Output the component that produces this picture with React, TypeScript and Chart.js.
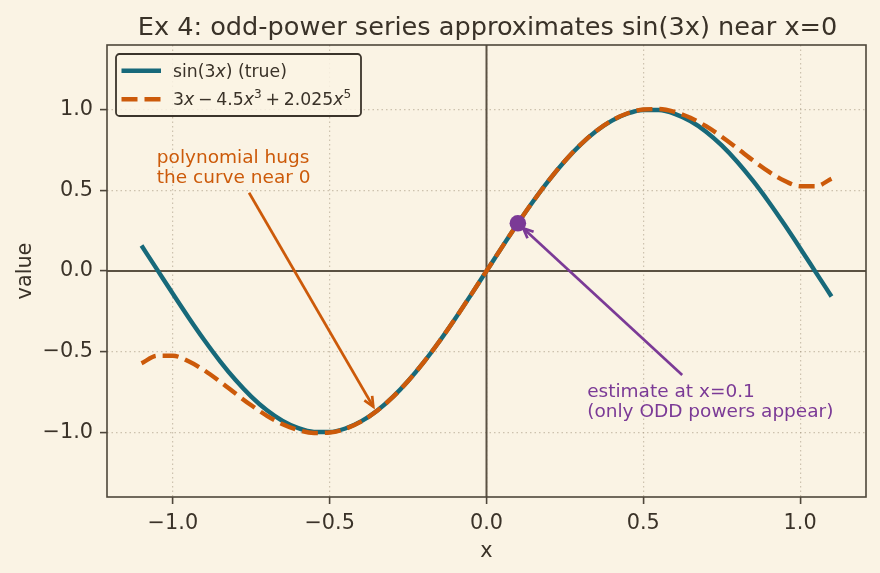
import { useEffect, useRef } from 'react';
import { Chart, registerables } from 'chart.js';

Chart.register(...registerables);

// ---------- data ----------
const X_VALUES = [
  -1.1, -1.05, -1.0, -0.95, -0.9, -0.85, -0.8, -0.75, -0.7, -0.65, -0.6, -0.55, -0.5,
  -0.45, -0.4, -0.35, -0.3, -0.25, -0.2, -0.15, -0.1, -0.05, 0.0, 0.05, 0.1, 0.15, 0.2,
  0.25, 0.3, 0.35, 0.4, 0.45, 0.5, 0.55, 0.6, 0.65, 0.7, 0.75, 0.8, 0.85, 0.9, 0.95,
  1.0, 1.05, 1.1,
];
const SIN_3X = [
  0.1577, 0.0084, -0.1411, -0.2875, -0.4274, -0.5577, -0.6755, -0.7781, -0.8632, -0.929,
  -0.9738, -0.9969, -0.9975, -0.9757, -0.932, -0.8674, -0.7833, -0.6816, -0.5646, -0.435,
  -0.2955, -0.1494, 0.0, 0.1494, 0.2955, 0.435, 0.5646, 0.6816, 0.7833, 0.8674, 0.932,
  0.9757, 0.9975, 0.9969, 0.9738, 0.929, 0.8632, 0.7781, 0.6755, 0.5577, 0.4274, 0.2875,
  0.1411, -0.0084, -0.1577,
];
const POLY_5 = [
  -0.5718, -0.5252, -0.525, -0.5587, -0.6152, -0.6849, -0.7596, -0.8321, -0.8968, -0.9492,
  -0.9855, -1.0032, -1.0008, -0.9773, -0.9327, -0.8677, -0.7834, -0.6817, -0.5647, -0.435,
  -0.2955, -0.1494, 0.0, 0.1494, 0.2955, 0.435, 0.5647, 0.6817, 0.7834, 0.8677, 0.9327,
  0.9773, 1.0008, 1.0032, 0.9855, 0.9492, 0.8968, 0.8321, 0.7596, 0.6849, 0.6152, 0.5587,
  0.525, 0.5252, 0.5718,
];
const ESTIMATE_X = [0.1];
const ESTIMATE_Y = [0.2955];
const X_TICKS = [-1.0, -0.5, 0.0, 0.5, 1.0];
const Y_TICKS = [-1.0, -0.5, 0.0, 0.5, 1.0];
const X_RANGE = [-1.21, 1.21];
const Y_RANGE = [-1.4, 1.4];

const TITLE = 'Ex 4: odd-power series approximates sin(3x) near x=0';
const X_LABEL = 'x';
const Y_LABEL = 'value';
const POLY_NOTE = ['polynomial hugs', 'the curve near 0'];
const POLY_NOTE_AT = [-1.051, 0.671];
const POLY_ARROW = [-0.757, 0.485, -0.361, -0.841];
const EST_NOTE = ['estimate at x=0.1', '(only ODD powers appear)'];
const EST_NOTE_AT = [0.321, -0.779];
const EST_ARROW = [0.624, -0.644, 0.117, 0.265];

// ---------- style ----------
const BG = '#FAF3E4';
const TEXT = '#3A3228';
const SPINE = '#4E463A';
const ZERO = '#5A5142';
const GRID = 'rgba(160,145,120,0.5)';
const TEAL = '#17697A';
const ORANGE = '#CC5A0A';
const PURPLE = '#7B3A96';
const FONT = '"DejaVu Sans", sans-serif';

type Seg = { t?: string; it?: boolean; sup?: boolean; gap?: number };

function drawRich(ctx: CanvasRenderingContext2D, segs: Seg[], x: number, y: number, fs: number) {
  let cx = x;
  ctx.textAlign = 'left';
  ctx.textBaseline = 'alphabetic';
  for (const s of segs) {
    if (s.gap) {
      cx += s.gap * fs;
      continue;
    }
    const size = s.sup ? fs * 0.7 : fs;
    ctx.font = `${s.it ? 'italic ' : ''}${size}px ${FONT}`;
    ctx.fillText(s.t || '', cx, s.sup ? y - fs * 0.4 : y);
    cx += ctx.measureText(s.t || '').width;
  }
}

function drawArrow(ctx: CanvasRenderingContext2D, x1: number, y1: number, x2: number, y2: number, color: string) {
  ctx.save();
  ctx.strokeStyle = color;
  ctx.lineWidth = 2.7;
  ctx.lineCap = 'butt';
  ctx.setLineDash([]);
  ctx.beginPath();
  ctx.moveTo(x1, y1);
  ctx.lineTo(x2, y2);
  ctx.stroke();
  const a = Math.atan2(y2 - y1, x2 - x1);
  const L = 10;
  const W = 4.5;
  const c = Math.cos(a);
  const s = Math.sin(a);
  ctx.beginPath();
  ctx.moveTo(x2 - L * c + W * s, y2 - L * s - W * c);
  ctx.lineTo(x2, y2);
  ctx.lineTo(x2 - L * c - W * s, y2 - L * s + W * c);
  ctx.stroke();
  ctx.restore();
}

const decoPlugin = {
  id: 'deco',
  beforeDatasetsDraw(chart: any) {
    const { ctx, chartArea: a, scales } = chart;
    const x0 = scales.x.getPixelForValue(0);
    const y0 = scales.y.getPixelForValue(0);
    ctx.save();
    ctx.strokeStyle = ZERO;
    ctx.lineWidth = 2;
    ctx.beginPath();
    ctx.moveTo(a.left, y0);
    ctx.lineTo(a.right, y0);
    ctx.moveTo(x0, a.top);
    ctx.lineTo(x0, a.bottom);
    ctx.stroke();
    ctx.restore();
  },
  afterDatasetsDraw(chart: any) {
    const { ctx, scales } = chart;
    const px = (v: number) => scales.x.getPixelForValue(v);
    const py = (v: number) => scales.y.getPixelForValue(v);
    drawArrow(ctx, px(POLY_ARROW[0]), py(POLY_ARROW[1]), px(POLY_ARROW[2]), py(POLY_ARROW[3]), ORANGE);
    drawArrow(ctx, px(EST_ARROW[0]), py(EST_ARROW[1]), px(EST_ARROW[2]), py(EST_ARROW[3]), PURPLE);
    ctx.save();
    ctx.font = `18.5px ${FONT}`;
    ctx.textAlign = 'left';
    ctx.textBaseline = 'alphabetic';
    ctx.fillStyle = ORANGE;
    POLY_NOTE.forEach((t, i) => ctx.fillText(t, px(POLY_NOTE_AT[0]), py(POLY_NOTE_AT[1]) + i * 20.6));
    ctx.fillStyle = PURPLE;
    EST_NOTE.forEach((t, i) => ctx.fillText(t, px(EST_NOTE_AT[0]), py(EST_NOTE_AT[1]) + i * 20.6));
    ctx.restore();
  },
  afterDraw(chart: any) {
    const { ctx, chartArea: a } = chart;
    ctx.save();
    // frame
    ctx.strokeStyle = SPINE;
    ctx.lineWidth = 1.6;
    ctx.strokeRect(a.left, a.top, a.right - a.left, a.bottom - a.top);
    // title
    ctx.fillStyle = TEXT;
    ctx.font = `25.6px ${FONT}`;
    ctx.textAlign = 'center';
    ctx.textBaseline = 'alphabetic';
    ctx.fillText(TITLE, (a.left + a.right) / 2 + 1, 34.5);
    // legend
    const lx = a.left + 9;
    const ly = a.top + 9;
    const lw = 245;
    const lh = 62;
    ctx.beginPath();
    ctx.roundRect(lx, ly, lw, lh, 3.5);
    ctx.fillStyle = 'rgba(250,243,228,0.85)';
    ctx.fill();
    ctx.strokeStyle = '#3B342B';
    ctx.lineWidth = 1.8;
    ctx.stroke();
    ctx.lineWidth = 4.4;
    ctx.lineCap = 'butt';
    ctx.strokeStyle = TEAL;
    ctx.beginPath();
    ctx.moveTo(lx + 5.5, ly + 16.7);
    ctx.lineTo(lx + 45, ly + 16.7);
    ctx.stroke();
    ctx.strokeStyle = ORANGE;
    ctx.setLineDash([16, 7]);
    ctx.beginPath();
    ctx.moveTo(lx + 5.5, ly + 45.3);
    ctx.lineTo(lx + 45, ly + 45.3);
    ctx.stroke();
    ctx.setLineDash([]);
    ctx.fillStyle = TEXT;
    const fs = 17.3;
    drawRich(ctx, [{ t: 'sin(3' }, { t: 'x', it: true }, { t: ') (true)' }], lx + 57, ly + 23.3, fs);
    drawRich(
      ctx,
      [
        { t: '3' }, { t: 'x', it: true }, { gap: 0.22 }, { t: '\u2212' }, { gap: 0.22 },
        { t: '4.5' }, { t: 'x', it: true }, { t: '3', sup: true }, { gap: 0.22 }, { t: '+' },
        { gap: 0.22 }, { t: '2.025' }, { t: 'x', it: true }, { t: '5', sup: true },
      ],
      lx + 57,
      ly + 51,
      fs
    );
    ctx.restore();
  },
};

const fmt = (v: number) => (v < 0 ? '\u2212' : '') + Math.abs(v).toFixed(1);

export default function App() {
  const ref = useRef<HTMLCanvasElement>(null);
  useEffect(() => {
    const tickFont = { family: FONT, size: 20.8 };
    const chart = new Chart(ref.current as HTMLCanvasElement, {
      type: 'line',
      data: {
        datasets: [
          {
            label: 'estimate',
            data: ESTIMATE_X.map((x, i) => ({ x, y: ESTIMATE_Y[i] })),
            showLine: false,
            pointRadius: 8.3,
            pointBackgroundColor: PURPLE,
            pointBorderWidth: 0,
            order: 0,
          },
          {
            label: '3x - 4.5x^3 + 2.025x^5',
            data: X_VALUES.map((x, i) => ({ x, y: POLY_5[i] })),
            borderColor: ORANGE,
            borderWidth: 4.4,
            borderDash: [16, 7],
            borderCapStyle: 'butt',
            pointRadius: 0,
            cubicInterpolationMode: 'monotone',
            order: 1,
          },
          {
            label: 'sin(3x) (true)',
            data: X_VALUES.map((x, i) => ({ x, y: SIN_3X[i] })),
            borderColor: TEAL,
            borderWidth: 4.4,
            pointRadius: 0,
            cubicInterpolationMode: 'monotone',
            order: 2,
          },
        ],
      } as any,
      options: {
        responsive: false,
        animation: false,
        devicePixelRatio: 1,
        layout: { padding: { left: 0, top: 45, right: 14, bottom: 0 } },
        plugins: {
          legend: { display: false },
          title: { display: false },
          tooltip: { enabled: false },
        },
        scales: {
          x: {
            type: 'linear',
            min: X_RANGE[0],
            max: X_RANGE[1],
            afterFit: (s: any) => {
              s.height = 76;
            },
            afterBuildTicks: (s: any) => {
              s.ticks = X_TICKS.map((value) => ({ value }));
            },
            ticks: { font: tickFont, color: TEXT, padding: 7, maxRotation: 0, callback: (v: any) => fmt(Number(v)) },
            grid: {
              color: GRID,
              lineWidth: 1.2,
              tickLength: 7,
              tickColor: SPINE,
              tickWidth: 1.6,
              tickBorderDash: [],
            },
            border: { display: false, dash: [1.5, 3] },
            title: { display: true, text: X_LABEL, font: { family: FONT, size: 20.8 }, color: TEXT, padding: { top: 0, bottom: 9 } },
          },
          y: {
            type: 'linear',
            min: Y_RANGE[0],
            max: Y_RANGE[1],
            afterFit: (s: any) => {
              s.width = 107;
            },
            afterBuildTicks: (s: any) => {
              s.ticks = Y_TICKS.map((value) => ({ value }));
            },
            ticks: { font: tickFont, color: TEXT, padding: 7, callback: (v: any) => fmt(Number(v)) },
            grid: {
              color: GRID,
              lineWidth: 1.2,
              tickLength: 7,
              tickColor: SPINE,
              tickWidth: 1.6,
              tickBorderDash: [],
            },
            border: { display: false, dash: [1.5, 3] },
            title: { display: true, text: Y_LABEL, font: { family: FONT, size: 20.8 }, color: TEXT, padding: { top: 13, bottom: 0 } },
          },
        },
      } as any,
      plugins: [decoPlugin],
    });
    return () => chart.destroy();
  }, []);
  return (
    <div style={{ position: 'fixed', left: 0, top: 0, width: 880, height: 573, background: BG }}>
      <canvas ref={ref} width={880} height={573} style={{ display: 'block', width: 880, height: 573 }} />
    </div>
  );
}
